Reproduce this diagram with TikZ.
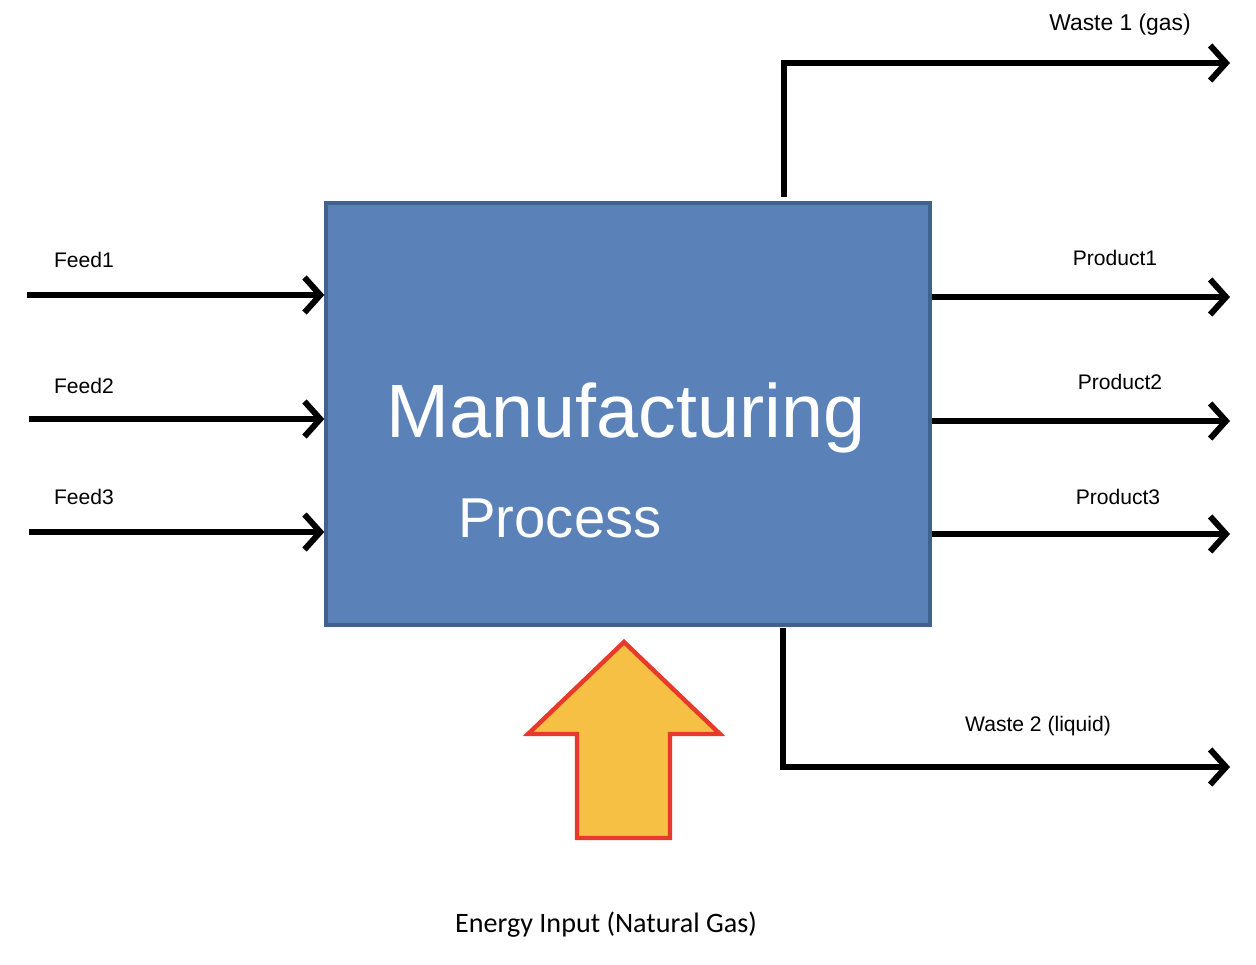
\documentclass[tikz,border=0pt]{standalone}
\usepackage{fontspec}
\setmainfont{Liberation Sans}
\newfontfamily\carlito{Carlito}
\usetikzlibrary{arrows.meta}
\definecolor{boxblue}{RGB}{90, 130, 184}
\definecolor{boxedge}{RGB}{65, 98, 140}
\definecolor{heatfill}{RGB}{245, 192, 67}
\definecolor{heatedge}{RGB}{232, 57, 42}

\begin{document}
\begin{tikzpicture}[x=0.02cm, y=-0.02cm,
    flow/.style={line width=3.4pt, -{Straight Barb[length=9pt, width=20pt, line width=3.4pt]}},
    pipe/.style={line width=3.4pt},
    lbl/.style={font=\fontsize{12}{14}\selectfont, inner sep=0pt}]
    \useasboundingbox (0,0) rectangle (1256,964);

    % Process box
    \node[draw=boxedge, line width=2pt, fill=boxblue, minimum width=12.08cm,
          minimum height=8.44cm, inner sep=0pt] (proc) at (628,414) {};
    \node[text=white, font=\fontsize{43}{48}\selectfont] (mtxt) at (626,418) {Manufacturing};
    \node[text=white, font=\fontsize{32}{36}\selectfont] (ptxt) at (560,518) {Process};

    % Feeds
    \coordinate (f1) at (27,295);
    \coordinate (f2) at (29,419);
    \coordinate (f3) at (29,532);
    \draw[flow] (f1) -- (proc.west |- f1);
    \draw[flow] (f2) -- (proc.west |- f2);
    \draw[flow] (f3) -- (proc.west |- f3);
    \node[lbl] (feed1) at (84,260) {Feed1};
    \node[lbl] (feed2) at (84,386) {Feed2};
    \node[lbl] (feed3) at (84,497) {Feed3};

    % Products
    \coordinate (p1) at (1230,297);
    \coordinate (p2) at (1230,421);
    \coordinate (p3) at (1230,534);
    \draw[flow] (proc.east |- p1) -- (p1);
    \draw[flow] (proc.east |- p2) -- (p2);
    \draw[flow] (proc.east |- p3) -- (p3);
    \node[lbl] (prod1) at (1115,258) {Product1};
    \node[lbl] (prod2) at (1120,382) {Product2};
    \node[lbl] (prod3) at (1118,497) {Product3};

    % Wastes
    \coordinate (w1a) at (784,197);
    \coordinate (w1b) at (784,63);
    \coordinate (w1c) at (1230,63);
    \draw[pipe] (w1a) -- ([yshift=1.7pt]w1b);
    \draw[flow] ([xshift=-1.7pt]w1b) -- (w1c);
    \coordinate (w2a) at (783,628);
    \coordinate (w2b) at (783,767);
    \coordinate (w2c) at (1230,767);
    \draw[pipe] (w2a) -- ([yshift=-1.7pt]w2b);
    \draw[flow] ([xshift=-1.7pt]w2b) -- (w2c);
    \node[lbl, font=\fontsize{13}{15}\selectfont] (waste1) at (1120,25) {Waste 1 (gas)};
    \node[lbl] (waste2) at (1038,726) {Waste 2 (liquid)};

    % Energy input arrow
    \draw[heatedge, fill=heatfill, line width=2.5pt, line join=miter]
        (624,642) -- (720,734) -- (670,734) -- (670,838) -- (577,838)
        -- (577,734) -- (528,734) -- cycle;
    \node[font=\carlito\fontsize{16}{19}\selectfont, inner sep=0pt] (energy) at (606,925)
        {Energy Input (Natural Gas)};
\end{tikzpicture}
\end{document}
